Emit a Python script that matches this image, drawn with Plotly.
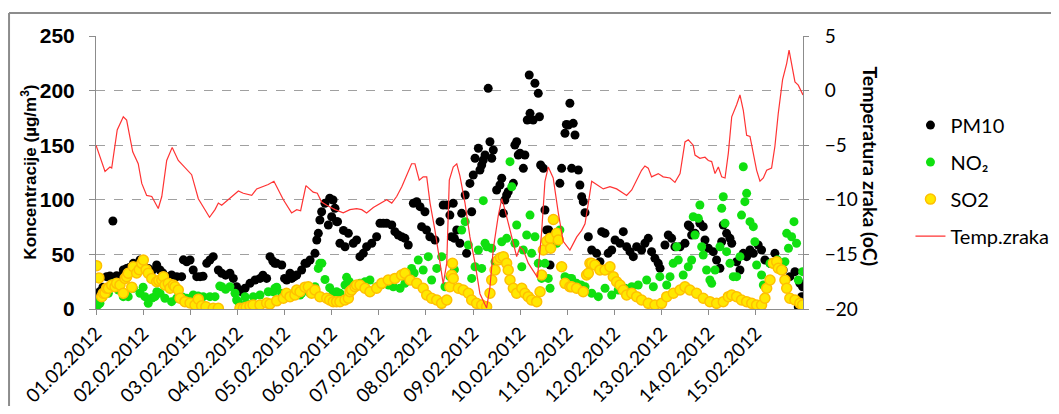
import plotly.graph_objects as go

# hours counted from 01.02.2012 00:00
day_labels = ['01.02.2012', '02.02.2012', '03.02.2012', '04.02.2012', '05.02.2012',
              '06.02.2012', '07.02.2012', '08.02.2012', '09.02.2012', '10.02.2012',
              '11.02.2012', '12.02.2012', '13.02.2012', '14.02.2012', '15.02.2012']

pm10_h = [0, 2, 3.5, 5.4, 7.1, 8.6, 10.5, 12.2, 13.9, 15.6, 17, 19, 22.4, 24.1, 26.6, 28.5, 30.9, 32.6, 34,
          36, 38.5, 41.1, 43.6, 44.5, 46.2, 47.9, 49.5, 51.3, 53, 54.5, 56.4, 58, 59.7, 62.3, 64, 66, 68.2,
          69.9, 71.6, 72.5, 74.2, 75.9, 78.4, 81, 83.5, 85, 86.9, 88.6, 90, 91, 92, 94.6, 96, 97.1, 98.8,
          99.7, 101, 102.2, 104.7, 106.4, 107.3, 109, 111.5, 112.4, 113.2, 114, 114.9, 116.6, 118.3, 119,
          120, 120.7, 121.7, 122.5, 123, 124.2, 126, 126.8, 128.5, 131, 132.7, 134.4, 136.1, 137.8, 140.4,
          142.9, 144.6, 146.3, 148, 150.6, 152.2, 153.9, 155.6, 157.3, 159, 161.6, 163.3, 165, 165.8, 167.5,
          168.3, 170, 172.6, 175.2, 176.8, 178.6, 180.2, 181, 181.9, 182.5, 183.7, 185.3, 186.2, 188, 188.7,
          190.4, 191.3, 192.1, 193, 194.7, 195.5, 196.4, 197.2, 198.1, 199.7, 200.6, 201.5, 202.3, 204,
          205.7, 206.6, 207.4, 208.2, 209.1, 209.9, 212.5, 213.3, 214.2, 215, 215.9, 217.6, 218.4, 219.6,
          220.6, 221, 222.6, 223.5, 225.2, 225.8, 226.4, 227.8, 228.6, 229.5, 230.5, 231.2, 236.2, 237.1,
          238.8, 239.5, 240.5, 241.3, 242.2, 243, 243.9, 245.6, 246.4, 247.3, 248.1, 249, 250.7, 252.4,
          254.9, 256.6, 257.5, 259.2, 260.8, 262.6, 264.3, 266.8, 268.5, 270.2, 271.9, 273.6, 275.3, 277.8,
          279.5, 281.2, 282.9, 284.6, 286.3, 287.2, 289.7, 291.4, 293.1, 294.8, 297.4, 299.9, 301.6, 302.4,
          303.3, 305, 307.5, 309.2, 310.1, 311.8, 314.3, 316, 317.7, 318.6, 319.4, 321.1, 322.8, 323.7,
          326.2, 327.9, 329.6, 331.3, 333, 334.7, 337.2, 338.9, 340.6, 343.2, 345.7, 347.4, 349.9, 353.3,
          355.9, 357.6, 358.4, 359.3, 359.8]
pm10_v = [12.8, 16, 20, 29.6, 30.2, 80.6, 30.5, 30, 35.7, 37.2, 38, 41.8, 44.9, 43.3, 37.2, 35, 40.3, 35.7, 33,
          29.6, 31.1, 29.6, 29.6, 45, 43.3, 44.9, 35.7, 29.6, 29.6, 30, 41.8, 44.9, 47.9, 35.7, 32.7, 31, 32.7,
          28, 20.4, 17.4, 15.8, 19, 23.5, 26.6, 28, 31, 28, 47.9, 44, 41.8, 41.8, 40.3, 28, 26.6, 32.7,
          28, 29.6, 31.1, 35.7, 41.8, 41.8, 44.9, 51, 63.2, 69.3, 81.5, 89.1, 96.8, 76.9, 101.4,
          84.5, 99.8, 92.2, 80, 80, 60.2, 72, 57, 69.3, 60.2, 63.2, 47.9, 51, 57, 60.2,
          66.2, 78.5, 78.5, 78.5, 76.9, 70.8, 67.8, 66.2, 64.7, 58.6, 96.8, 98.3, 93.7, 75.4, 89.1,
          72.3, 66.2, 63.2, 80, 95.2, 95.2, 86, 66.2, 96.8, 64.7, 72.3, 60.2, 87.6, 104.4, 51,
          115, 89.1, 122.7, 138, 147.2, 127.3, 131.9, 136.4, 141, 202.1, 153.2, 138, 145.6, 109,
          113.6, 119.7, 87.6, 99.8, 104.4, 107.4, 115.1, 150.2, 153.2, 141, 142.6, 128.8, 141, 173.1,
          214.3, 179.2, 173.1, 206.7, 197.5, 176.1, 131.9, 128.8, 90.7, 72.3, 72.3, 40.3, 115.1, 128.8,
          160.9, 169, 168.5, 188.4, 128.8, 170, 159.3, 127.3, 113.6, 102.8, 98.3, 88.2, 66.2, 54,
          51, 43.3, 70.8, 69.3, 51, 54, 63.2, 60.2, 70.8, 57, 52.5, 47.9, 57, 54,
          60.2, 64.7, 52.5, 46.4, 41.8, 37.3, 58.6, 67.8, 64.7, 57, 57, 60.2, 76.9, 75.4,
          67.8, 69.3, 78.5, 75.4, 63.2, 55.6, 52.5, 44.9, 37.3, 61.6, 76.9, 69.3, 64.7, 60.2,
          43.3, 35.7, 51, 47.9, 54, 51, 58.6, 54, 44.9, 41.8, 51, 38.7, 35.7, 29.6,
          34.2, 2.1, 23.5, 11.3, 20.4]

no2_h = [0, 1, 2, 3.5, 5.5, 6.3, 8.8, 9.7, 11.4, 13.9, 15.6, 16.4, 19, 22.4, 24, 24.9, 26.6, 28.5, 30, 31,
         32.6, 35.1, 38.5, 41.1, 44, 46.2, 49.5, 52, 54.6, 58, 60.6, 63, 64, 66, 68.2, 70.8, 71.6, 72.5,
         75.9, 76.7, 80.1, 83.5, 87.7, 90.3, 91.1, 92, 94.5, 98.8, 101, 103.9, 104.7, 109, 111.5, 113.2,
         114, 115, 116.6, 119, 120.8, 122.5, 124.2, 126.8, 127.6, 129, 131, 134.4, 137, 139.5, 142.9, 145,
         147.1, 149, 151.4, 154.8, 157.3, 160.7, 162, 164.1, 166.6, 169.2, 170.9, 173.5, 176, 177.7,
         180.2, 181.1, 182.5, 186.2, 188, 189.6, 191.3, 193, 194.7, 196.4, 197.2, 198.1, 199, 201.5,
         203.2, 206.6, 209.1, 210.8, 211.7, 213.3, 214.2, 216.8, 217.6, 219.3, 221, 221.8, 223.5, 225.2,
         226.9, 228.6, 230.3, 231.2, 232.9, 234.6, 236.2, 238.8, 241.3, 242.2, 244.7, 247, 249, 252.4,
         255.8, 259.2, 262.6, 265.9, 269.4, 272.8, 276.1, 280.4, 283.8, 287.1, 290.6, 292.3, 293.9,
         295.7, 296.5, 299, 301.6, 303.3, 304.1, 305, 306.7, 307.5, 308.4, 309.2, 310.9, 312.6, 313.5,
         315.2, 317.7, 318.6, 319.4, 320.3, 321.1, 322.8, 324.5, 326.2, 327.9, 328.7, 329.6, 330.4,
         331.3, 333, 334.7, 335.5, 336.4, 338.9, 339.8, 343.2, 347, 350.8, 351.7, 352.6, 354.2, 355.4,
         356.7, 357.6, 359.8]
no2_v = [6.7, 3.7, 5.2, 11, 17.4, 14.4, 23.5, 22, 17.4, 11.3, 12.8, 11.3, 19, 14.4, 19.9, 11.3, 5.2, 10, 11.3, 15.8,
         14.4, 9.8, 6.7, 9.8, 11, 9.8, 12.8, 12, 11.3, 11.3, 11.3, 21, 20.4, 18, 20.4, 14.4, 8.2, 6.7,
         11.3, 5.2, 11.3, 12.8, 15.8, 15.8, 19, 19.9, 14.4, 11.3, 13, 12.8, 14.4, 14.4, 20.4, 37.2,
         41.8, 41.8, 27, 19.5, 15, 15.8, 14.4, 22, 29, 25, 21, 23.5, 25, 26.6, 20.4, 22,
         23.5, 22, 20.4, 19, 23.5, 37.2, 33, 44.9, 35.7, 47.9, 26.6, 37.2, 47.9, 20.4,
         29.6, 41.8, 36, 72.3, 80, 58.6, 28, 38.7, 54, 37.2, 99.2, 60.2, 57, 55.6,
         43.3, 61.6, 64.7, 134.9, 112, 60.2, 76.9, 38.7, 54, 67.8, 86, 51, 66.2, 41.8,
         28, 41.8, 28, 19, 66.2, 60.2, 72.3, 29.6, 28, 28, 23.5, 22, 20.4, 14.4,
         11.3, 19, 12.8, 17.4, 19, 20.4, 22, 26.6, 20.4, 29.6, 22, 29.6, 41.8,
         57, 44.9, 31.1, 38.7, 44.9, 84.5, 67.8, 83, 95.2, 57, 49.5, 35.7, 26.6, 23.5,
         35.7, 57, 92.2, 102.8, 78.5, 52.5, 41.8, 29.6, 29.6, 47.9, 86, 130.3, 98.3,
         105.9, 80, 75.4, 61.6, 40.3, 31.1, 22, 41.8, 45, 43.3, 69.3, 55.6, 66.2, 80,
         60.2, 26.6, 34.2]

so2_h = [0.3, 1.5, 2.9, 3.7, 4.6, 5.4, 6.3, 8, 9.7, 10.5, 12.2, 13.9, 14.8, 15.6, 16.4, 18.2, 19, 20.7, 22,
         23.3, 24.1, 25.5, 26.6, 28.4, 30.9, 32, 33.5, 34.3, 35.1, 36.8, 37.7, 39.4, 40.2, 41.9, 42.8,
         45.3, 47.9, 50.4, 52.1, 53.8, 56, 59.7, 62.3, 73.3, 75, 76.5, 78.4, 80, 83.5, 86.9, 88.6, 92,
         95.4, 97, 98.8, 101.3, 102.2, 103.9, 106.4, 108.1, 109.8, 111.5, 114, 117.5, 119, 120.8, 122.5,
         124.2, 126.8, 128.5, 129.3, 130.2, 131.9, 132.7, 134.4, 137, 139.5, 142.9, 145.5, 148.8, 152.2,
         155.6, 157.3, 159.9, 163.3, 166.6, 168.4, 170.9, 173.5, 176, 178.6, 180.2, 181.1, 181.5, 181.9,
         184.5, 187, 189.6, 191.3, 193.8, 196.4, 198.9, 200.6, 201.5, 203.2, 204.8, 206, 207.4, 209.1,
         209.9, 210.8, 212.5, 214.2, 216.8, 218.4, 220.1, 221.8, 224.4, 226.1, 226.9, 227.8, 229.5,
         231.2, 231.5, 232.9, 234.6, 235.4, 237.1, 238.8, 241.3, 242.2, 244.7, 248.1, 249.8, 250.7,
         251.5, 252.4, 254, 256.6, 259.2, 261.7, 263.4, 265.1, 266.8, 268.5, 270.2, 272.8, 275.3,
         277.8, 281.2, 284.6, 288, 290.6, 294, 297.4, 299.9, 302.4, 305.8, 309.2, 312.6, 316, 319.4,
         322, 323.7, 326.2, 328.7, 331.3, 333.9, 336.4, 338.9, 340.6, 341.5, 343.2, 344.9, 346.6,
         347.4, 349.1, 350.8, 351.7, 353.3, 355.9, 358.4, 359.8]
so2_v = [39.7, 28.5, 11.3, 14.4, 14.4, 19, 19, 22, 20.4, 23.5, 22, 14.4, 28, 29.6, 32.7, 20, 38.7, 33, 36,
         41.8, 44.9, 36, 32.7, 28, 25, 26, 26.6, 29.6, 22, 23.5, 19, 22, 20.4, 17.4, 9.8,
         6.7, 5.5, 3.7, 9, 3, 2, 0.6, 0.6, 0.6, 0.6, 1.5, 2.7, 3.7, 3.7, 5.5, 4.6, 7.5,
         9.8, 14.4, 11.3, 12.8, 17.4, 15.8, 20, 20.4, 14.4, 17.4, 11.3, 9.8, 8.2, 6.7, 6.7,
         6.7, 8.2, 9.8, 15.8, 17.4, 20.4, 22, 22, 19, 15.8, 19, 23.5, 26.6, 28,
         31.1, 32.7, 26.6, 23.5, 19, 12.8, 9.8, 8.2, 5.2, 8.2, 20.4, 31.1, 41.8, 28,
         19, 17.4, 14.4, 8.2, 5.2, 3.7, 2.1, 14.4, 26.6, 35.7, 44.9, 47, 47.9, 41.8,
         35.7, 26.6, 19, 14.4, 19, 14.4, 11.3, 8.2, 6.7, 15.8, 31.1, 54, 62,
         64.7, 55.6, 82, 69.3, 63.2, 38.7, 23.5, 20.4, 20.4, 19, 15.8, 31.1, 32.7,
         41.8, 41.8, 40.3, 35.7, 35.7, 38.7, 29.6, 25, 22, 17.4, 12.8, 14.4, 11.3,
         8.2, 5.2, 3.7, 5.2, 11.3, 14.4, 17.4, 20.4, 17.4, 14.4, 9.8, 6.7, 5.2, 6.7,
         11.3, 12.8, 11.3, 8.2, 6.7, 5.2, 3.7, 3.7, 9.8, 19, 26.6, 41.8, 43.3,
         37.3, 35.7, 26.6, 19, 9.8, 8.2, 5.2, 3.7]

temp_h = [0, 4.6, 7.1, 8, 10.8, 13.9, 15.6, 18.7, 21.5, 23.3, 25.8, 28.4, 31.7, 33.5, 36, 38.8, 41.9, 44.5, 47,
          48.7, 52.1, 55.5, 57.8, 60.6, 62.3, 64, 68.2, 72.5, 75, 79.3, 81.8, 85.2, 87.7, 90.6, 92.8, 95.4,
          99.6, 102.2, 104.2, 106.9, 110.6, 112.7, 114.9, 117.5, 121.7, 125.9, 129.3, 132.7, 135.3, 137.8,
          141.2, 145.5, 148, 150.6, 153.1, 155.7, 158.2, 160.7, 162.4, 164.6, 166.6, 168.4, 170.1, 172.6,
          175.2, 176.8, 178.6, 179.9, 181.9, 183.7, 185.3, 187.9, 190.4, 193, 195.5, 197.2, 198.9, 200.6,
          202.3, 204.8, 206.6, 208.2, 210.8, 214.2, 215.9, 217.6, 220.1, 222.7, 224.8, 226.9, 228.6, 230.3,
          232.8, 235.4, 237.9, 241.3, 244.8, 247.3, 249, 250.7, 252.4, 254.9, 258.3, 261.7, 265.1, 268.5,
          270.2, 272.8, 275.3, 277.8, 279.5, 281.2, 282.9, 286.3, 288.8, 292.3, 294.8, 297.4, 299.9, 301.6,
          304.1, 305, 307.5, 310.1, 311.8, 313.5, 315.2, 316.9, 318.6, 320.3, 322, 323.7, 326.2, 327.9,
          329.6, 331.3, 333, 334.7, 336.4, 338.1, 339.8, 341.5, 344, 345.7, 347.4, 349.6, 351.7, 352.9,
          354.2, 355.9, 357.6, 360]
temp_v = [-5.0, -7.4, -7.0, -7.1, -3.6, -2.4, -2.7, -5.6, -6.7, -8.5, -9.6, -9.7, -10.8, -9.7, -6.4, -5.2, -6.4,
          -6.9, -7.3, -7.7, -9.9, -10.9, -11.6, -10.9, -10.3, -10.5, -9.9, -9.2, -9.4, -9.6, -9.0, -8.8, -8.6,
          -8.3, -9.1, -10.0, -11.2, -10.9, -11.0, -8.7, -9.3, -9.4, -10.2, -10.5, -10.9, -11.2, -10.9, -10.8,
          -10.9, -11.2, -10.7, -10.3, -10.0, -10.3, -9.7, -8.8, -7.7, -6.7, -6.7, -8.2, -7.9, -7.9, -10.3,
          -12.8, -15.8, -17.7, -15.8, -8.2, -7.0, -6.7, -7.8, -10.3, -13.4, -15.8, -18.6, -19.2, -19.9, -18.0,
          -14.5, -11.5, -9.9, -10.9, -12.8, -15.2, -14.3, -14.6, -15.8, -16.5, -17.1, -13.0, -8.3, -7.0,
          -8.0, -11.2, -13.8, -14.6, -13.4, -12.8, -12.2, -10.3, -8.3, -8.6, -9.0, -8.8, -9.0, -9.4,
          -9.6, -9.1, -8.2, -7.3, -6.9, -7.1, -7.9, -7.6, -7.9, -8.0, -8.4, -7.6, -4.7, -4.5,
          -5.0, -5.9, -6.2, -6.1, -6.4, -6.5, -7.6, -7.0, -7.9, -8.0, -5.7, -2.4, -1.3, -0.4,
          -1.8, -4.1, -4.2, -5.7, -7.3, -8.3, -8.0, -7.3, -7.1, -5.1, -2.1, 1.0, 2.5, 3.7,
          2.5, 0.8, 0.5, -0.4]

calibri = 'Lato'
arial = 'Liberation Sans, Arial'
grey = '#8c8c8c'

fig = go.Figure()
fig.add_trace(go.Scatter(x=pm10_h, y=pm10_v, name='PM10', mode='markers', legendgroup='a',
                         marker=dict(color='black', size=9)))
fig.add_trace(go.Scatter(x=no2_h, y=no2_v, name='NO₂', mode='markers', legendgroup='b',
                         marker=dict(color='#10E010', size=9)))
fig.add_trace(go.Scatter(x=so2_h, y=so2_v, name='SO2', mode='markers', legendgroup='c',
                         marker=dict(color='#FFE800', size=10, line=dict(color='#FFC000', width=1.5))))
fig.add_trace(go.Scatter(x=temp_h, y=temp_v, name='Temp.zraka', mode='lines', legendgroup='d', yaxis='y2',
                         line=dict(color='#FF3333', width=1.2)))

# page body has an 8px margin, so everything is shifted by -8px
fig.update_layout(
    width=1051, height=398,
    margin=dict(l=88, r=256, t=28, b=97, autoexpand=False),
    paper_bgcolor='white', plot_bgcolor='white',
    showlegend=True,
    legend=dict(x=1.152, y=0.745, xanchor='left', yanchor='top', tracegroupgap=8,
                font=dict(family=calibri, size=20, color='black'), bgcolor='rgba(0,0,0,0)'),
    xaxis=dict(range=[0, 360], tickmode='array', tickvals=[24 * i for i in range(15)], ticktext=day_labels,
               tickangle=-45, ticks='outside', ticklen=5, tickcolor=grey, showline=True, linecolor=grey,
               linewidth=1, showgrid=False, zeroline=False, automargin=False,
               tickfont=dict(family=calibri, size=19, color='black')),
    yaxis=dict(range=[0, 250], dtick=50, ticks='outside', ticklen=6, tickcolor=grey, showline=True,
               linecolor=grey, linewidth=1, showgrid=True, gridcolor='#a0a0a0', griddash='dash',
               gridwidth=1, zeroline=False, ticklabelstandoff=10, automargin=False,
               tickfont=dict(family=arial, size=21, color='black', weight='bold')),
    yaxis2=dict(range=[-20, 5], dtick=5, overlaying='y', side='right', ticks='outside', ticklen=5,
                tickcolor=grey, showline=True, linecolor=grey, linewidth=1, showgrid=False, zeroline=False,
                ticklabelstandoff=12, automargin=False, tickfont=dict(family=calibri, size=19, color='black')),
    annotations=[
        dict(text='Koncentracije (µg/m<sup>3</sup>)', xref='paper', yref='paper', x=-0.096, y=0.5,
             xanchor='center', yanchor='middle', textangle=-90, showarrow=False,
             font=dict(family=arial, size=17, color='black', weight='bold')),
        dict(text='Temperatura zraka (oC)', xref='paper', yref='paper', x=1.0955, y=0.524,
             xanchor='center', yanchor='middle', textangle=90, showarrow=False,
             font=dict(family=calibri, size=19.5, color='black', weight='bold')),
    ],
    shapes=[
        dict(type='line', xref='paper', yref='paper', x0=-0.123, x1=-0.123, y0=-0.6, y1=1.084,
             line=dict(color=grey, width=2)),
        dict(type='line', xref='paper', yref='paper', x0=-0.123, x1=1.5, y0=1.084, y1=1.084,
             line=dict(color=grey, width=2)),
    ],
)

fig.write_html("out.html")
